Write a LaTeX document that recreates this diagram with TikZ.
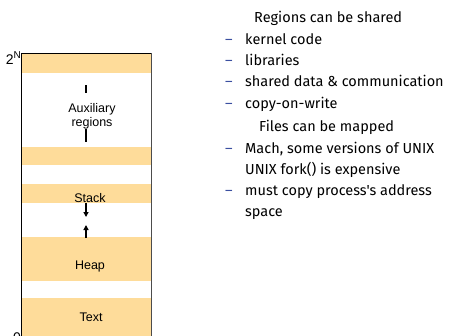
\documentclass[tikz,border=0pt]{standalone}
\usepackage{fontspec}
\setmainfont{Liberation Sans}
\newfontfamily\comic{Fira Sans}
\usetikzlibrary{arrows.meta}
\definecolor{band}{HTML}{FEDC9A}
\definecolor{dashc}{HTML}{3A4FA0}
\tikzset{
  bandbox/.style={fill=band,draw=none,minimum width=130pt,inner sep=0pt,anchor=north west},
  lbl/.style={font=\fontsize{12.5}{13}\selectfont,inner sep=0pt},
  rtext/.style={font=\comic\fontsize{14.5}{16}\selectfont,anchor=west,inner sep=0pt,text height=12.5pt,text depth=1.5pt},
  dashm/.style={rtext,text=dashc},
  growarrow/.style={-{Triangle[length=5pt,width=5pt]},line width=1.2pt}
}
\begin{document}
\begin{tikzpicture}[x=1pt,y=-1pt]
\useasboundingbox (0,0) rectangle (462,335);
% bands
\node[bandbox,minimum height=20pt] (b1) at (21,53) {};
\node[bandbox,minimum height=18pt] (b2) at (21,147) {};
\node[bandbox,minimum height=19pt] (bstack) at (21,184) {};
\node[bandbox,minimum height=44pt] (bheap) at (21,237) {};
\node[bandbox,minimum height=40pt] (btext) at (21,298) {};
% frame
\coordinate (tl) at (21,53);
\coordinate (tr) at (151,53);
\coordinate (bl) at (21,336);
\coordinate (br) at (151,336);
\draw[line width=1pt] (bl) -- (tl) -- (tr);
\draw[line width=1pt,draw=black!70] (tr) -- (br);
% labels
\node[lbl,anchor=east,font=\fontsize{14}{15}\selectfont] (top) at (21,58) {2\raisebox{6pt}{\fontsize{10}{10}\selectfont N}};
\node[lbl,anchor=east,font=\fontsize{14}{15}\selectfont] (zero) at (21,338) {0};
\node[lbl] (aux1) at (92,109) {Auxiliary};
\node[lbl] (aux2) at (92,123) {regions};
\coordinate (t1a) at (86,85); \coordinate (t1b) at (86,93);
\coordinate (t2a) at (86,129); \coordinate (t2b) at (86,142);
\draw[line width=1.4pt] (t1a) -- (t1b);
\draw[line width=1.4pt] (t2a) -- (t2b);
\node[lbl] (stack) at (90,198) {Stack};
\node[lbl] (heap) at (90,266) {Heap};
\node[lbl] (text) at (91,317) {Text};
\coordinate (sa) at (86,203); \coordinate (sb) at (86,217);
\coordinate (ha) at (86,238); \coordinate (hb) at (86,225);
\draw[growarrow] (sa) -- (sb);
\draw[growarrow] (ha) -- (hb);
% right text
\node[rtext] (r0) at (254,17) {Regions can be shared};
\node[dashm] (d1) at (225,39) {–}; \node[rtext] (r1) at (245,39) {kernel code};
\node[dashm] (d2) at (225,60) {–}; \node[rtext] (r2) at (245,60) {libraries};
\node[dashm] (d3) at (225,81) {–}; \node[rtext] (r3) at (245,81) {shared data \& communication};
\node[dashm] (d4) at (225,103) {–}; \node[rtext] (r4) at (245,103) {copy-on-write};
\node[rtext] (r5) at (259,126) {Files can be mapped};
\node[dashm] (d6) at (225,148) {–}; \node[rtext] (r6) at (245,148) {Mach, some versions of UNIX};
\node[rtext] (r7) at (245,169) {UNIX fork() is expensive};
\node[dashm] (d8) at (225,190) {–}; \node[rtext] (r8) at (245,190) {must copy process's address};
\node[rtext] (r9) at (245,211) {space};
\end{tikzpicture}
\end{document}
